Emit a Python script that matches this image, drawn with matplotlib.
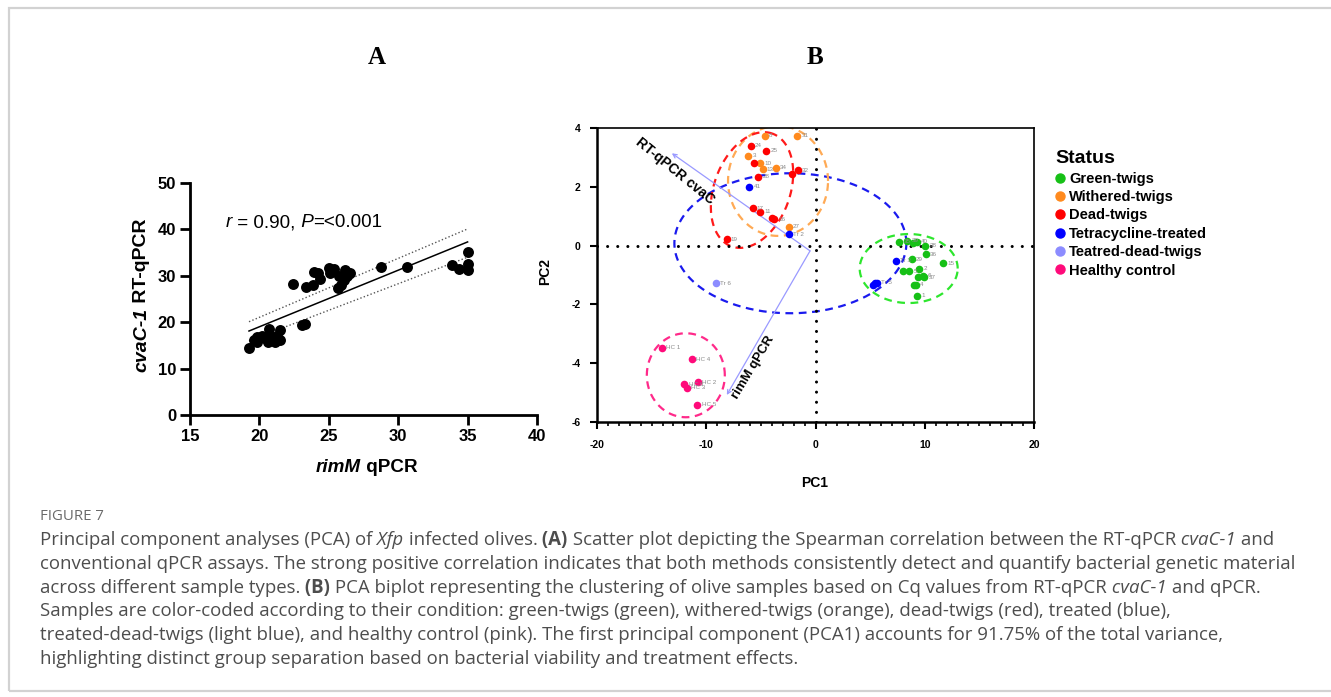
import numpy as np
import matplotlib
matplotlib.use('Agg')
import matplotlib.pyplot as plt
from matplotlib.lines import Line2D
from matplotlib.patches import Rectangle

plt.rcParams['font.family'] = ['Liberation Sans', 'DejaVu Sans']
plt.rcParams['axes.unicode_minus'] = False

# ---- panel A data (rimM qPCR vs cvaC-1 RT-qPCR Cq) ----
rimm = [19.25, 19.6, 19.8, 19.85, 20.2, 20.4, 20.6, 20.7, 20.9, 21.1,
        21.25, 21.45, 21.5, 23.1, 23.25, 22.45, 23.35, 23.85, 23.9, 24.25,
        24.4, 25.0, 25.1, 25.4, 25.65, 25.7, 25.85, 26.1, 26.2, 26.3,
        26.55, 28.75, 30.6, 33.9, 34.35, 35.0, 35.0, 35.0]
cvac = [14.5, 16.2, 15.8, 16.8, 17.1, 16.5, 15.8, 18.5, 16.9, 15.8,
        17.1, 16.2, 18.3, 19.4, 19.6, 28.3, 27.6, 28.1, 30.9, 30.6,
        29.4, 31.7, 30.6, 31.4, 27.3, 30.0, 28.1, 29.1, 31.3, 29.9,
        30.6, 31.9, 31.9, 32.4, 31.5, 35.1, 32.6, 31.3]
fit_x = [19.25, 35.0]
fit_y = [18.1, 37.3]
band_upper = [20.1, 40.1]
band_lower = [16.0, 34.0]

# ---- panel B data (PCA scores) ----
green_pc1 = [7.67, 8.4, 8.95, 9.26, 10.05, 10.1, 8.8, 11.7, 7.98, 8.58, 9.5, 9.4, 9.86, 9.95, 9.04, 9.19, 9.31]
green_pc2 = [0.13, 0.17, 0.08, 0.13, 0.0, -0.29, -0.47, -0.6, -0.87, -0.87, -0.78, -1.08, -1.03, -1.08, -1.33, -1.33, -1.7]
green_lab = ['35', '39', '', '40', '38', '36', '29', '15', '', '5', '2', '', '6', '37', '', '4', '1']

orange_pc1 = [-4.62, -1.66, -6.15, -5.08, -4.83, -3.64, -2.45]
orange_pc2 = [3.74, 3.73, 3.05, 2.8, 2.6, 2.65, 0.64]
orange_lab = ['8', '31', '3', '10', '13', '34', '27']

red_pc1 = [-5.93, -4.53, -5.63, -5.23, -1.63, -2.18, -5.75, -5.08, -4.0, -3.8, -8.12]
red_pc2 = [3.4, 3.22, 2.82, 2.34, 2.57, 2.42, 1.27, 1.15, 0.93, 0.89, 0.21]
red_lab = ['24', '25', '', '28', '32', '', '17', '11', '', '16', '19']

blue_pc1 = [-6.06, -2.45, 7.37, 5.29, 5.45, 5.6]
blue_pc2 = [2.0, 0.38, -0.52, -1.33, -1.28, -1.26]
blue_lab = ['41', 'Tr 2', 'Tr 3', '', '', 'Tr 5']

ltblue_pc1 = [-9.1]
ltblue_pc2 = [-1.28]
ltblue_lab = ['Tr 6']

pink_pc1 = [-14.07, -11.33, -10.78, -12.0, -11.78, -10.81]
pink_pc2 = [-3.47, -3.86, -4.65, -4.71, -4.83, -5.42]
pink_lab = ['HC 1', 'HC 4', 'HC 2', 'HC 6', 'HC 3', 'HC 5']

status = ['Green-twigs', 'Withered-twigs', 'Dead-twigs', 'Tetracycline-treated',
          'Teatred-dead-twigs', 'Healthy control']
# loading vectors (start, end)
load_origin = (-0.5, -0.18)
load_cvac = (-13.15, 3.14)
load_rimm = (-8.12, -5.08)

W, H = 1331, 697
fig = plt.figure(figsize=(W / 100, H / 100), dpi=100)


def fx(px):
    return px / W


def fy(py):
    return 1 - py / H


def draw_runs(parts, x, y, size, family, color='black', rotation=0, ha='left'):
    # draw text pieces of mixed style one after the other (px coords, y = baseline)
    r = fig.canvas.get_renderer()
    arts = []
    for s, st in parts:
        t = fig.text(0, 0, s, fontsize=size, family=family, color=color, rotation=rotation,
                     fontweight='bold' if 'b' in st else 'normal',
                     fontstyle='italic' if 'i' in st else 'normal',
                     ha='left' if rotation == 0 else 'center',
                     va='baseline' if rotation == 0 else 'center')
        arts.append(t)
    if rotation == 0:
        sizes = [t.get_window_extent(r).width for t in arts]
    else:
        sizes = [t.get_window_extent(r).height for t in arts]
    total = sum(sizes)
    if rotation == 0:
        pos = x - total / 2 if ha == 'center' else x
        for t, w in zip(arts, sizes):
            t.set_position((fx(pos), fy(y)))
            pos += w
    else:
        pos = y + total / 2
        for t, w in zip(arts, sizes):
            t.set_position((fx(x), fy(pos - w / 2)))
            pos -= w
    return total


# outer frame
fig.add_artist(Rectangle((fx(9), fy(691)), fx(1400) - fx(9), fy(8) - fy(691),
                         transform=fig.transFigure, fill=False, ec='#d2d2d2', lw=1.6))

# panel letters
fig.text(fx(377), fy(58), 'A', family='Liberation Serif', weight='bold', fontsize=18, ha='center', va='center')
fig.text(fx(815), fy(58), 'B', family='Liberation Serif', weight='bold', fontsize=18, ha='center', va='center')

# ================= panel A =================
axA = fig.add_axes([fx(190), fy(415), fx(537) - fx(190), fy(183) - fy(415)])
axA.scatter(rimm, cvac, s=62, c='black', linewidths=0, zorder=3, clip_on=False)
axA.plot(fit_x, fit_y, color='black', lw=1.1, zorder=2)
axA.plot(fit_x, band_upper, color='#555555', lw=1.0, ls=(0, (1, 1.6)), zorder=2)
axA.plot(fit_x, band_lower, color='#555555', lw=1.0, ls=(0, (1, 1.6)), zorder=2)
axA.set_xlim(15, 40)
axA.set_ylim(0, 50)
axA.set_xticks([15, 20, 25, 30, 35, 40])
axA.set_yticks([0, 10, 20, 30, 40, 50])
for s in ['top', 'right']:
    axA.spines[s].set_visible(False)
for s in ['left', 'bottom']:
    axA.spines[s].set_linewidth(2)
axA.tick_params(width=2, length=7, labelsize=12, pad=3)
for t in axA.get_xticklabels() + axA.get_yticklabels():
    t.set_fontweight('bold')

draw_runs([('r', 'i'), (' = 0.90,', ''), (' P', 'i'), ('=<0.001', '')], 226, 227, 13.6, 'Liberation Sans')
draw_runs([('rimM', 'bi'), (' qPCR', 'b')], 367, 472, 13.6, 'Liberation Sans', ha='center')
draw_runs([('cvaC-1', 'bi'), (' RT-qPCR', 'b')], 142, 295, 14, 'Liberation Sans', rotation=90)

# ================= panel B =================
axB = fig.add_axes([fx(597), fy(422), fx(1034) - fx(597), fy(128) - fy(422)])
axB.set_xlim(-20, 20)
axB.set_ylim(-6, 4)
sx = axB.bbox.width / 40
sy = axB.bbox.height / 10


def ellipse(cx, cy, a, b, ang, color):
    # a, b semi-axes in pixels, angle in screen degrees
    t = np.linspace(0, 2 * np.pi, 300)
    th = np.radians(ang)
    dx = a * np.cos(t) * np.cos(th) - b * np.sin(t) * np.sin(th)
    dy = a * np.cos(t) * np.sin(th) + b * np.sin(t) * np.cos(th)
    axB.plot(cx + dx / sx, cy + dy / sy, color=color, lw=1.6, ls=(0, (3.5, 2.5)), zorder=1)


ellipse(-2.3, 0.08, 116, 70, 0, '#1a1aee')
ellipse(-3.43, 2.2, 50, 55, 0, '#ffaa55')
ellipse(-5.81, 1.89, 60, 38, 70, '#ff1a1a')
ellipse(8.53, -0.78, 49, 34.5, 0, '#2ee62e')
ellipse(-11.87, -4.41, 39, 42, 0, '#ff2a8a')

axB.axhline(0, color='black', lw=2.2, ls=(0, (0.01, 3.3)), dash_capstyle='round', zorder=1.5)
axB.axvline(0, color='black', lw=2.2, ls=(0, (0.01, 3.3)), dash_capstyle='round', zorder=1.5)

for end in [load_cvac, load_rimm]:
    axB.annotate('', xy=end, xytext=load_origin,
                 arrowprops=dict(arrowstyle='->', color='#9a9aff', lw=0.9, mutation_scale=7,
                                 shrinkA=0, shrinkB=0))
axB.text(-12.9, 2.55, 'RT-qPCR cvaC', rotation=-39, fontsize=10, fontweight='bold',
         ha='center', va='center', rotation_mode='anchor')
axB.text(-5.7, -4.16, 'rimM qPCR', rotation=59, fontsize=9.5, fontweight='bold',
         ha='center', va='center', rotation_mode='anchor')

colors = ['#16c016', '#ff8a1e', '#ff0000', '#0000ff', '#8c8cff', '#ff0a7a']
groups = [(green_pc1, green_pc2, green_lab), (orange_pc1, orange_pc2, orange_lab),
          (red_pc1, red_pc2, red_lab), (blue_pc1, blue_pc2, blue_lab),
          (ltblue_pc1, ltblue_pc2, ltblue_lab), (pink_pc1, pink_pc2, pink_lab)]
for (px_, py_, lab), col in zip(groups, colors):
    axB.scatter(px_, py_, s=30, c=col, linewidths=0, zorder=3)
    for x, y, l in zip(px_, py_, lab):
        if l:
            axB.annotate(l, (x, y), xytext=(3, 0), textcoords='offset points',
                         fontsize=4.5, color='#8a8a8a', va='center', zorder=4)

axB.set_xticks([-20, -10, 0, 10, 20])
axB.set_xticks(np.arange(-20, 21, 1), minor=True)
axB.set_yticks([-6, -4, -2, 0, 2, 4])
for s in ['left', 'bottom']:
    axB.spines[s].set_linewidth(1.8)
for s in ['top', 'right']:
    axB.spines[s].set_linewidth(1.2)
axB.tick_params(which='major', width=1.5, length=5, labelsize=7.5, pad=8)
axB.tick_params(axis='y', pad=7)
axB.tick_params(which='minor', width=1.2, length=3)
for t in axB.get_xticklabels() + axB.get_yticklabels():
    t.set_fontweight('bold')
fig.text(fx(815), fy(483), 'PC1', fontsize=10, fontweight='bold', ha='center', va='center')
fig.text(fx(545), fy(272), 'PC2', fontsize=10, fontweight='bold', ha='center', va='center', rotation=90)

handles = [Line2D([], [], marker='o', ls='', color=c, markersize=6.5) for c in colors]
leg = fig.legend(handles, status, title='Status', loc='upper left',
                 bbox_to_anchor=(fx(1048), fy(143)), frameon=False,
                 prop={'weight': 'bold', 'size': 10.5}, title_fontproperties={'weight': 'bold', 'size': 14},
                 handlelength=0.7, handletextpad=0.25, labelspacing=0.3, borderpad=0,
                 alignment='left')

# ================= caption =================
cap = '#4d4d4d'
fam = ['Open Sans', 'DejaVu Sans']
fig.text(fx(40), fy(520), 'FIGURE 7', fontsize=10.8, color='#6a6a6a', family=fam, va='baseline')
lines = [
    [('Principal component analyses (PCA) of', ''), (' Xfp', 'i'), (' infected olives.', ''), (' (A)', 'b'),
     (' Scatter plot depicting the Spearman correlation between the RT-qPCR', ''), (' cvaC-1', 'i'), (' and', '')],
    [('conventional qPCR assays. The strong positive correlation indicates that both methods consistently detect and quantify bacterial genetic material', '')],
    [('across different sample types.', ''), (' (B)', 'b'),
     (' PCA biplot representing the clustering of olive samples based on Cq values from RT-qPCR', ''),
     (' cvaC-1', 'i'), (' and qPCR.', '')],
    [('Samples are color-coded according to their condition: green-twigs (green), withered-twigs (orange), dead-twigs (red), treated (blue),', '')],
    [('treated-dead-twigs (light blue), and healthy control (pink). The first principal component (PCA1) accounts for 91.75% of the total variance,', '')],
    [('highlighting distinct group separation based on bacterial viability and treatment effects.', '')],
]
for i, ln in enumerate(lines):
    draw_runs(ln, 40, 545 + 23.8 * i, 13.4, fam, color=cap)

fig.savefig('out.png', dpi=100)
